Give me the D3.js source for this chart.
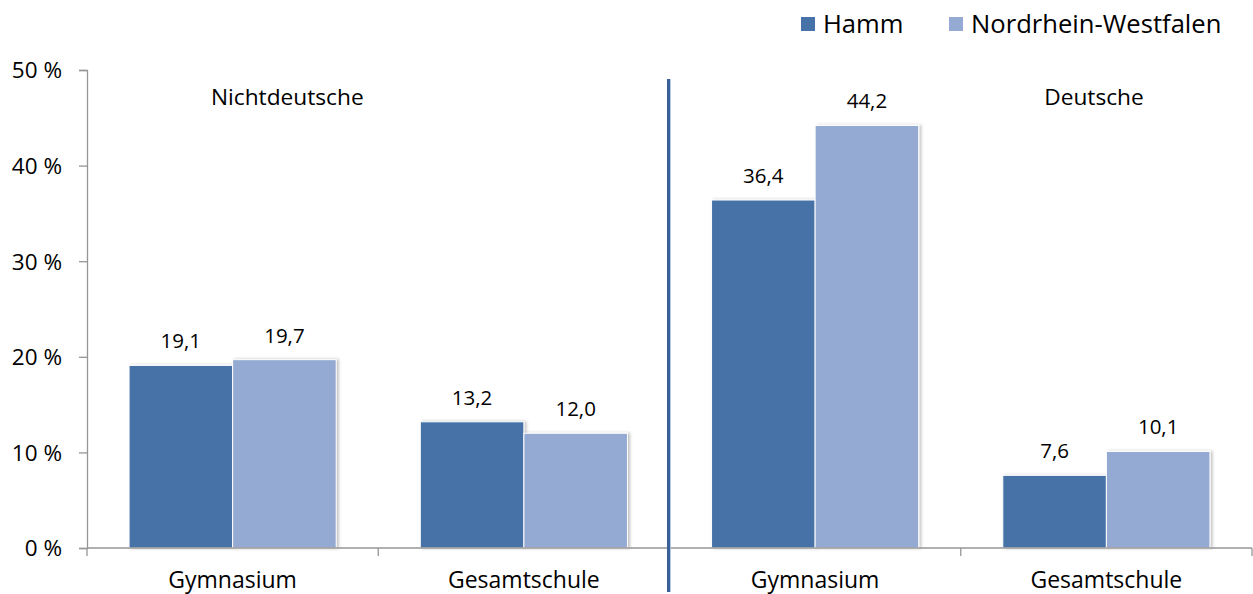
<!DOCTYPE html>
<html><head><meta charset="utf-8">
<script src="https://cdn.jsdelivr.net/npm/d3@7"></script>
<style>body{margin:0;background:#fff}svg{display:block}text{font-family:"Open Sans","Noto Sans",sans-serif;fill:#000}</style>
</head><body><svg id="c" width="1253" height="594"></svg>
<script>
const categories = ["Gymnasium","Gesamtschule","Gymnasium","Gesamtschule"];
const groups = ["Nichtdeutsche","Deutsche"];
const series = ["Hamm","Nordrhein-Westfalen"];
const hamm = [19.1,13.2,36.4,7.6];
const nrw = [19.7,12.0,44.2,10.1];
const yTicks = [0,10,20,30,40,50];
const colors = ["#4672A7","#95AAD2"];

(function(){
const FONT = '"Open Sans","Noto Sans",sans-serif';
const svg = d3.select("#c");
const defs = svg.append("defs");
const f = defs.append("filter").attr("id","sh").attr("x","-10%").attr("y","-10%").attr("width","130%").attr("height","120%");
f.append("feDropShadow").attr("dx",2).attr("dy",0).attr("stdDeviation",1.5).attr("flood-color","#000").attr("flood-opacity",0.25);

const mL=87, mR=1252, mT=70, mB=548;
const x = d3.scaleBand().domain(d3.range(categories.length)).range([mL,mR]).paddingInner(0).paddingOuter(0);
const xs = d3.scaleBand().domain(series).range([0,x.bandwidth()]).paddingInner(0).paddingOuter(0.406);
const y = d3.scaleLinear().domain([0,50]).range([mB,mT]);
const vals = [hamm,nrw];

const g = svg.append("g");
series.forEach((s,si)=>{
  g.selectAll(null).data(vals[si]).enter().append("rect")
    .attr("x",(d,i)=>x(i)+xs(s)).attr("y",d=>y(d))
    .attr("width",xs.bandwidth()).attr("height",d=>y(0)-y(d))
    .attr("fill",colors[si]).attr("stroke","#fff").attr("stroke-width",1)
    .attr("filter","url(#sh)");
});
series.forEach((s,si)=>{
  g.selectAll(null).data(vals[si]).enter().append("text")
    .attr("x",(d,i)=>x(i)+xs(s)+xs.bandwidth()/2).attr("y",d=>y(d)-17)
    .attr("text-anchor","middle").attr("font-size",20.5)
    .text(d=>d.toFixed(1).replace(".",","));
});

const ya = svg.append("g").attr("transform",`translate(${mL},0)`)
  .call(d3.axisLeft(y).tickValues(yTicks).tickSize(8).tickPadding(17).tickFormat(d=>d+" %"));
ya.select(".domain").attr("stroke","#969696").attr("stroke-width",1.3);
ya.selectAll(".tick line").attr("stroke","#969696").attr("stroke-width",1.3);
ya.selectAll(".tick text").attr("font-size",22.5).attr("font-family",FONT).attr("fill","#000").attr("dy","0.35em");

const xa = svg.append("g").attr("transform",`translate(0,${mB})`);
xa.append("line").attr("x1",mL).attr("x2",mR).attr("stroke","#969696").attr("stroke-width",1.6);
const bounds = d3.range(categories.length+1).map(i=> i<categories.length ? x(i) : x(categories.length-1)+x.bandwidth());
xa.selectAll(null).data(bounds).enter().append("line")
  .attr("x1",d=>d).attr("x2",d=>d).attr("y1",0).attr("y2",8).attr("stroke","#969696").attr("stroke-width",1.3);
xa.selectAll(null).data(categories).enter().append("text")
  .attr("x",(d,i)=>x(i)+x.bandwidth()/2).attr("y",40).attr("text-anchor","middle").attr("font-size",23).text(d=>d);

const dx = x(2)-1;
svg.append("line").attr("x1",dx+1.8).attr("x2",dx+1.8).attr("y1",79).attr("y2",592).attr("stroke","#a9bde0").attr("stroke-width",1);
svg.append("line").attr("x1",dx).attr("x2",dx).attr("y1",79).attr("y2",592).attr("stroke","#3A6196").attr("stroke-width",3);

svg.append("text").attr("x",211).attr("y",105).attr("font-size",22.7).text(groups[0]);
svg.append("text").attr("x",1094).attr("y",105).attr("text-anchor","middle").attr("font-size",22.7).text(groups[1]);

const lg = svg.append("g");
const lx = [801,949];
series.forEach((s,i)=>{
  lg.append("rect").attr("x",lx[i]).attr("y",17).attr("width",14).attr("height",14).attr("fill",colors[i]);
  lg.append("text").attr("x",lx[i]+22).attr("y",33).attr("font-size",25.6).text(s);
});
})();
</script></body></html>
